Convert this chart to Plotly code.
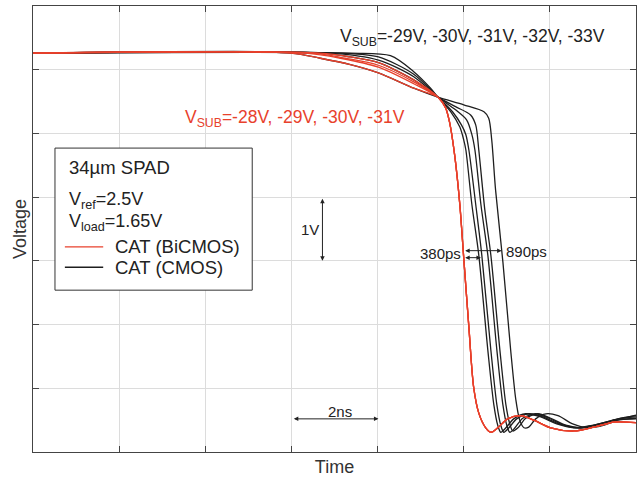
import plotly.graph_objects as go

# Time in ns, voltage in V (2 ns / div, 1 V / div)
RED = "#e8412c"
BLK = "#1e1e1e"

bicmos_labels = ["-28V", "-29V", "-30V", "-31V"]
cmos_labels = ["-29V", "-30V", "-31V", "-32V", "-33V"]

# BiCMOS (red): separate pre-crossover droops, shared fast fall
r28_t = [0.0, 5.98, 6.67, 7.37, 8.02, 8.84]
r28_v = [6.26, 6.26, 6.18, 6.08, 5.95, 5.71]
r29_t = [0.0, 6.33, 7.14, 8.02, 8.84]
r29_v = [6.26, 6.26, 6.18, 6.04, 5.78]
r30_t = [0.0, 6.50, 7.25, 8.02, 8.84]
r30_v = [6.26, 6.26, 6.18, 6.07, 5.81]
r31_t = [0.0, 6.67, 7.37, 8.02, 8.84]
r31_v = [6.26, 6.26, 6.20, 6.11, 5.84]
red_fall_t = [9.40, 9.58, 9.67, 9.79, 9.91, 10.00, 10.12, 10.23, 10.35, 10.51, 10.63,
              10.79, 11.02, 11.33, 11.63, 12.02, 12.56, 13.02, 13.49, 14.0]
red_fall_v = [5.57, 5.40, 5.18, 4.66, 3.88, 3.05, 1.96, 1.02, 0.61, 0.38, 0.31,
              0.38, 0.52, 0.57, 0.50, 0.38, 0.33, 0.39, 0.47, 0.46]

# CMOS (black)
c29_t = [0.0, 5.98, 6.67, 7.37, 8.02, 8.84, 9.40, 10.00, 10.47, 10.58, 10.65, 10.74, 10.91,
         11.09, 11.21, 11.30, 11.40, 11.51, 11.67, 11.91, 12.19, 12.53, 12.88, 13.26, 13.65, 14.0]
c29_v = [6.26, 6.26, 6.18, 6.08, 5.95, 5.71, 5.57, 5.45, 5.34, 5.24, 4.90, 4.11, 2.98,
         1.60, 0.82, 0.50, 0.38, 0.39, 0.52, 0.60, 0.57, 0.44, 0.38, 0.42, 0.52, 0.58]
c30_t = [0.0, 6.67, 7.37, 8.02, 8.84, 9.40, 9.81, 10.16, 10.28, 10.35, 10.49, 10.63, 10.84,
         10.98, 11.07, 11.14, 11.26, 11.44, 11.72, 12.02, 12.37, 12.72, 13.14, 13.58, 14.0]
c30_v = [6.26, 6.26, 6.20, 6.11, 5.84, 5.57, 5.42, 5.29, 5.13, 4.74, 3.80, 3.09, 1.60,
         0.74, 0.44, 0.33, 0.38, 0.53, 0.60, 0.53, 0.42, 0.38, 0.42, 0.52, 0.57]
c31_t = [0.0, 6.91, 8.02, 8.84, 9.40, 9.81, 10.07, 10.19, 10.26, 10.40, 10.56, 10.77,
         10.91, 11.00, 11.07, 11.19, 11.37, 11.67, 11.98, 12.33, 12.72, 13.14, 13.58, 14.0]
c31_v = [6.26, 6.26, 6.15, 5.89, 5.57, 5.37, 5.21, 4.98, 4.74, 3.88, 3.09, 1.60,
         0.74, 0.42, 0.31, 0.38, 0.53, 0.60, 0.53, 0.42, 0.38, 0.44, 0.52, 0.55]
c32_t = [0.0, 7.14, 8.02, 8.84, 9.40, 9.74, 9.95, 10.05, 10.12, 10.28, 10.42, 10.63,
         10.77, 10.86, 10.93, 11.05, 11.23, 11.51, 11.84, 12.21, 12.60, 13.07, 13.53, 14.0]
c32_v = [6.26, 6.26, 6.20, 5.93, 5.57, 5.34, 5.13, 4.98, 4.74, 3.88, 3.09, 1.60,
         0.74, 0.42, 0.31, 0.38, 0.52, 0.60, 0.55, 0.44, 0.38, 0.42, 0.50, 0.53]
c33_t = [0.0, 7.37, 8.30, 8.84, 9.23, 9.40, 9.70, 9.91, 10.00, 10.05, 10.19, 10.35, 10.56,
         10.70, 10.79, 10.86, 10.98, 11.16, 11.44, 11.79, 12.16, 12.56, 13.02, 13.49, 14.0]
c33_v = [6.26, 6.26, 6.22, 5.97, 5.71, 5.57, 5.34, 5.10, 4.90, 4.74, 3.88, 3.09, 1.60,
         0.74, 0.42, 0.31, 0.38, 0.52, 0.60, 0.55, 0.44, 0.38, 0.42, 0.50, 0.52]

fig = go.Figure()
line_kw = dict(shape="spline", smoothing=0.8, width=1.3)

for name, t, v in zip(cmos_labels,
                      [c29_t, c30_t, c31_t, c32_t, c33_t],
                      [c29_v, c30_v, c31_v, c32_v, c33_v]):
    fig.add_trace(go.Scatter(x=t, y=v, mode="lines", name="CMOS " + name,
                             line=dict(color=BLK, **line_kw), showlegend=False))

for name, t, v in zip(bicmos_labels,
                      [r28_t, r29_t, r30_t, r31_t],
                      [r28_v, r29_v, r30_v, r31_v]):
    fig.add_trace(go.Scatter(x=t + red_fall_t, y=v + red_fall_v, mode="lines",
                             name="BiCMOS " + name,
                             line=dict(color=RED, **line_kw), showlegend=False))

FONT = "Liberation Sans, Arial, sans-serif"
ann = []


def text(x, y, s, color="#222", size=17.5, xanchor="left"):
    ann.append(dict(x=x, y=y, xref="x", yref="y", text=s, showarrow=False,
                    xanchor=xanchor, yanchor="middle",
                    font=dict(family=FONT, size=size, color=color)))


def darrow(x0, y0, x1, y1):
    ann.append(dict(x=x1, y=y1, ax=x0, ay=y0, xref="x", yref="y", axref="x", ayref="y",
                    text="", showarrow=True, arrowhead=2, arrowsize=0.9, arrowwidth=1,
                    arrowcolor="#222", arrowside="end+start", standoff=0, startstandoff=0))


text(7.07, 6.50, "V<sub>SUB</sub>=-29V, -30V, -31V, -32V, -33V")
text(3.49, 5.23, "V<sub>SUB</sub>=-28V, -29V, -30V, -31V", color=RED)

# legend box contents
text(0.79, 4.47, "34µm SPAD", size=18.5)
text(0.79, 3.94, "V<sub>ref</sub>=2.5V", size=18)
text(0.79, 3.60, "V<sub>load</sub>=1.65V", size=18)
text(1.86, 3.22, "CAT (BiCMOS)", size=18.5)
text(1.86, 2.90, "CAT (CMOS)", size=18.5)

# measurement markers
darrow(6.72, 4.0, 6.72, 3.0)
text(6.44, 3.50, "1V", size=15, xanchor="center")
darrow(6.02, 0.52, 8.02, 0.52)
text(7.12, 0.64, "2ns", size=15, xanchor="center")
darrow(10.0, 3.05, 10.40, 3.05)
text(9.98, 3.11, "380ps", size=15, xanchor="right")
darrow(10.0, 3.16, 10.88, 3.16)
text(10.93, 3.14, "890ps", size=15, xanchor="left")

shapes = [
    dict(type="rect", xref="x", yref="y", x0=0.51, x1=5.09, y0=2.54, y1=4.77,
         line=dict(color="#333", width=1), fillcolor="white", layer="above"),
    dict(type="line", xref="x", yref="y", x0=0.74, x1=1.63, y0=3.22, y1=3.22,
         line=dict(color=RED, width=1.4)),
    dict(type="line", xref="x", yref="y", x0=0.74, x1=1.63, y0=2.90, y1=2.90,
         line=dict(color=BLK, width=1.4)),
]

axis_common = dict(showgrid=True, gridcolor="#dcdcdc", gridwidth=1, zeroline=False,
                   showticklabels=False, ticks="inside", ticklen=6, tickcolor="#444",
                   showline=True, linecolor="#444", linewidth=1, mirror="ticks",
                   automargin=False)

fig.update_layout(
    width=641, height=478,
    margin=dict(l=33, r=5, t=6, b=26),
    paper_bgcolor="white", plot_bgcolor="white",
    xaxis=dict(range=[0, 14], dtick=2, tick0=0,
               title=dict(text="Time", standoff=8,
                          font=dict(family=FONT, size=18, color="#333")),
               **axis_common),
    yaxis=dict(range=[0, 7], dtick=1, tick0=0,
               title=dict(text="Voltage", standoff=0,
                          font=dict(family=FONT, size=18, color="#333")),
               **axis_common),
    annotations=ann,
    shapes=shapes,
)

fig.write_html("out.html", config={"displayModeBar": False},
               post_script="document.body.style.margin='0';")
